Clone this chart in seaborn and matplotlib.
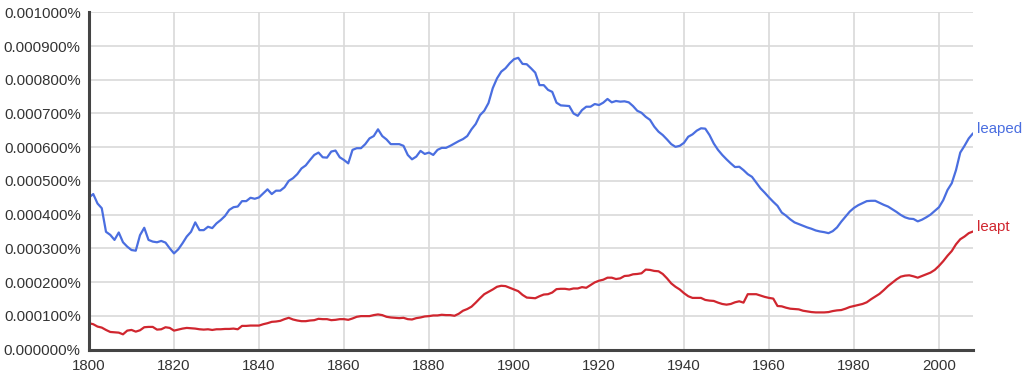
import matplotlib
matplotlib.use("Agg")
import matplotlib.pyplot as plt
import seaborn as sns
import pandas as pd
import numpy as np

# Years 1800..2008
years = list(range(1800, 2009))

# Values in units of 0.0001 %
leaped = [
    4.51, 4.61, 4.33, 4.19, 3.49, 3.40, 3.25, 3.47, 3.18, 3.05,
    2.95, 2.93, 3.39, 3.61, 3.25, 3.20, 3.18, 3.22, 3.17, 3.00,
    2.85, 2.97, 3.15, 3.35, 3.49, 3.77, 3.54, 3.54, 3.64, 3.60,
    3.74, 3.84, 3.96, 4.14, 4.22, 4.24, 4.40, 4.40, 4.50, 4.47,
    4.51, 4.63, 4.75, 4.61, 4.71, 4.71, 4.81, 5.00, 5.08, 5.20,
    5.37, 5.46, 5.62, 5.77, 5.84, 5.70, 5.69, 5.87, 5.90, 5.70,
    5.62, 5.52, 5.92, 5.97, 5.97, 6.09, 6.26, 6.33, 6.53, 6.33,
    6.23, 6.09, 6.09, 6.09, 6.04, 5.77, 5.64, 5.72, 5.89, 5.80,
    5.84, 5.77, 5.92, 5.98, 5.98, 6.04, 6.11, 6.18, 6.24, 6.33,
    6.53, 6.69, 6.95, 7.08, 7.31, 7.75, 8.04, 8.24, 8.34, 8.49,
    8.61, 8.65, 8.47, 8.46, 8.34, 8.21, 7.84, 7.84, 7.70, 7.64,
    7.32, 7.24, 7.23, 7.22, 7.00, 6.93, 7.10, 7.20, 7.20, 7.28,
    7.25, 7.32, 7.43, 7.33, 7.37, 7.35, 7.36, 7.33, 7.22, 7.08,
    7.02, 6.90, 6.81, 6.61, 6.46, 6.36, 6.23, 6.09, 6.01, 6.04,
    6.13, 6.31, 6.38, 6.49, 6.56, 6.55, 6.36, 6.11, 5.92, 5.77,
    5.64, 5.52, 5.41, 5.42, 5.32, 5.20, 5.12, 4.95, 4.78, 4.65,
    4.51, 4.38, 4.26, 4.06, 3.97, 3.86, 3.77, 3.72, 3.67, 3.62,
    3.58, 3.53, 3.50, 3.48, 3.45, 3.51, 3.62, 3.79, 3.94, 4.09,
    4.20, 4.28, 4.34, 4.40, 4.41, 4.41, 4.35, 4.29, 4.24, 4.16,
    4.08, 3.99, 3.92, 3.88, 3.87, 3.80, 3.85, 3.92, 4.00, 4.11,
    4.22, 4.43, 4.73, 4.93, 5.32, 5.84, 6.04, 6.26, 6.41,
]

leapt = [
    0.78, 0.75, 0.68, 0.65, 0.58, 0.52, 0.51, 0.50, 0.45, 0.56,
    0.58, 0.53, 0.57, 0.66, 0.67, 0.67, 0.59, 0.60, 0.66, 0.64,
    0.56, 0.59, 0.62, 0.64, 0.63, 0.62, 0.60, 0.59, 0.60, 0.58,
    0.60, 0.60, 0.61, 0.61, 0.62, 0.60, 0.70, 0.70, 0.71, 0.71,
    0.71, 0.75, 0.78, 0.82, 0.83, 0.85, 0.90, 0.94, 0.89, 0.86,
    0.84, 0.84, 0.86, 0.87, 0.91, 0.90, 0.90, 0.87, 0.88, 0.90,
    0.90, 0.88, 0.92, 0.97, 0.99, 0.99, 0.99, 1.02, 1.04, 1.02,
    0.97, 0.95, 0.94, 0.93, 0.94, 0.90, 0.89, 0.93, 0.95, 0.98,
    0.99, 1.01, 1.01, 1.03, 1.02, 1.02, 1.00, 1.06, 1.15, 1.20,
    1.27, 1.39, 1.52, 1.64, 1.71, 1.78, 1.86, 1.89, 1.88, 1.83,
    1.78, 1.73, 1.62, 1.54, 1.53, 1.52, 1.58, 1.63, 1.64, 1.69,
    1.79, 1.80, 1.80, 1.78, 1.81, 1.81, 1.85, 1.83, 1.91, 1.99,
    2.04, 2.07, 2.13, 2.13, 2.09, 2.11, 2.18, 2.19, 2.23, 2.24,
    2.26, 2.37, 2.36, 2.33, 2.32, 2.24, 2.11, 1.96, 1.86, 1.78,
    1.67, 1.58, 1.53, 1.53, 1.53, 1.47, 1.45, 1.44, 1.39, 1.35,
    1.33, 1.35, 1.40, 1.43, 1.39, 1.64, 1.64, 1.64, 1.60, 1.56,
    1.53, 1.51, 1.29, 1.28, 1.24, 1.21, 1.20, 1.19, 1.15, 1.13,
    1.11, 1.10, 1.10, 1.10, 1.11, 1.14, 1.16, 1.17, 1.21, 1.26,
    1.29, 1.32, 1.35, 1.40, 1.49, 1.57, 1.65, 1.76, 1.88, 1.98,
    2.08, 2.16, 2.19, 2.20, 2.17, 2.13, 2.18, 2.23, 2.28, 2.36,
    2.48, 2.62, 2.78, 2.92, 3.12, 3.27, 3.35, 3.45, 3.50,
]

words = ["leaped", "leapt"]
colors = {"leaped": "#4a6ee0", "leapt": "#d0262f"}
x_ticks = list(range(1800, 2001, 20))
y_ticks = list(range(0, 11))  # in 0.0001 % units

df = pd.DataFrame({
    "year": years * 2,
    "value": leaped + leapt,
    "word": ["leaped"] * len(years) + ["leapt"] * len(years),
})

sns.set_style("white")
plt.rcParams["font.family"] = ["Liberation Sans", "DejaVu Sans"]

fig = plt.figure(figsize=(10.30, 3.84), dpi=100)
ax = fig.add_axes([89 / 1030, 1 - 349.5 / 384, (973 - 89) / 1030, (349.5 - 12.3) / 384])

sns.lineplot(data=df, x="year", y="value", hue="word", palette=colors,
             linewidth=1.6, legend=False, ax=ax, zorder=3)

ax.set_xlim(1800, 2008)
ax.set_ylim(0, 10)
ax.set_xticks(x_ticks)
ax.set_yticks(y_ticks)
ax.set_yticklabels([f"{v * 1e-4:.6f}%" for v in y_ticks])
ax.set_xlabel("")
ax.set_ylabel("")

ax.grid(True, color="#d9d9d9", linewidth=1.2, zorder=0)
ax.set_axisbelow(True)

for s in ["top", "right"]:
    ax.spines[s].set_visible(False)
for s in ["left", "bottom"]:
    ax.spines[s].set_color("#444444")
    ax.spines[s].set_linewidth(2.2)
    ax.spines[s].set_zorder(4)

ax.tick_params(axis="both", which="major", direction="out", length=4, width=1.2,
               color="#444444", labelsize=10.8, labelcolor="#333333", pad=2)
ax.tick_params(axis="x", pad=3)

for w, vals in (("leaped", leaped), ("leapt", leapt)):
    ax.annotate(w, xy=(years[-1], vals[-1]), xytext=(3, 3), textcoords="offset points",
                ha="left", va="center", color=colors[w], fontsize=10.8,
                annotation_clip=False)

fig.savefig("out.png", dpi=100)
